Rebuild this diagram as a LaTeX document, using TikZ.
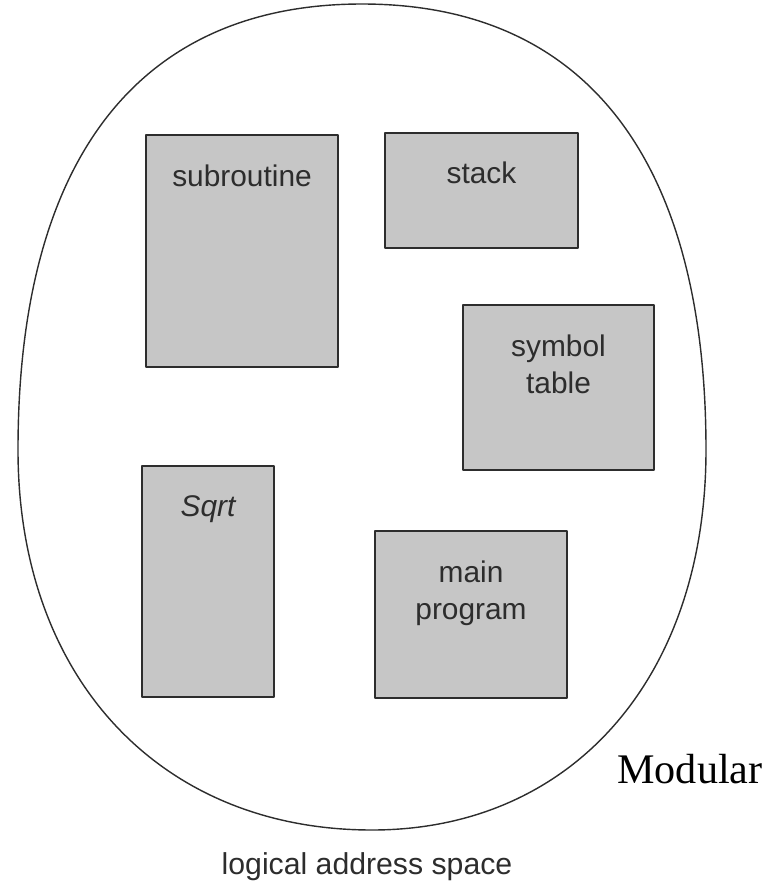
\documentclass[tikz,border=0pt]{standalone}
\usepackage{fontspec}
\setmainfont{Liberation Sans}
\newfontfamily\serifmod{Liberation Serif}
\usetikzlibrary{positioning}
\definecolor{segfill}{RGB}{198,198,198}
\definecolor{segline}{RGB}{45,45,45}
\tikzset{
  segbox/.style={draw=segline,fill=segfill,line width=1pt,inner sep=0pt},
  segname/.style={inner sep=0pt,text=segline,align=center,font=\fontsize{17}{21}\selectfont},
}
\begin{document}
\begin{tikzpicture}[x=0.02cm,y=-0.02cm,line join=round,line cap=round]
	\useasboundingbox (0,0) rectangle (776,883);
	% outline of the address space
	\draw[segline,line width=0.8pt] (18,450) .. controls (18,160) and (138,4) .. (362,4)
		.. controls (586,4) and (706,160) .. (706,450)
		.. controls (706,678) and (572,830) .. (372,830)
		.. controls (160,830) and (18,678) .. cycle;
	% segments
	\node[segbox,minimum width=3.84cm,minimum height=4.64cm] (sub) at (242,251) {};
	\node[segbox,minimum width=3.86cm,minimum height=2.3cm] (stk) at (481.5,190.5) {};
	\node[segbox,minimum width=3.82cm,minimum height=3.3cm] (sym) at (558.5,387.5) {};
	\node[segbox,minimum width=2.64cm,minimum height=4.62cm] (sqr) at (208,581.5) {};
	\node[segbox,minimum width=3.84cm,minimum height=3.34cm] (mnp) at (471,614.5) {};
	\node[segname,below=0.6cm of sub.north] (subtxt) {subroutine};
	\node[segname,below=0.58cm of stk.north] (stktxt) {stack};
	\node[segname,below=0.6cm of sym.north] (symtxt) {symbol\\table};
	\node[segname,below=0.6cm of sqr.north] (sqrtxt) {\itshape Sqrt};
	\node[segname,below=0.6cm of mnp.north] (mnptxt) {main\\program};
	\node[segname,font=\fontsize{17.2}{21}\selectfont] (las) at (367,867) {logical address space};
	\node[inner sep=0pt,font=\serifmod\fontsize{24}{28}\selectfont] (mod) at (690,769) {Modular};
\end{tikzpicture}
\end{document}
